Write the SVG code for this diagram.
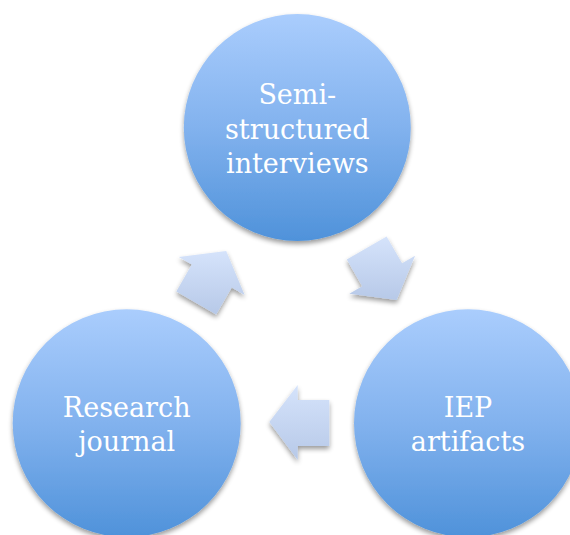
<svg xmlns="http://www.w3.org/2000/svg" width="570" height="535" viewBox="0 0 570 535">
  <defs>
    <linearGradient id="circleGrad" x1="0" y1="0" x2="0" y2="1">
      <stop offset="0" stop-color="#aacdfd"/>
      <stop offset="0.5" stop-color="#82b2ee"/>
      <stop offset="1" stop-color="#4f92da"/>
    </linearGradient>
    <linearGradient id="arrowGrad" x1="0" y1="0" x2="0" y2="1">
      <stop offset="0" stop-color="#d5e3fb"/>
      <stop offset="1" stop-color="#b7c9e8"/>
    </linearGradient>
    <filter id="shadow" x="-20%" y="-20%" width="140%" height="140%">
      <feGaussianBlur in="SourceAlpha" stdDeviation="2.5"/>
      <feOffset dx="0" dy="3" result="b"/>
      <feComponentTransfer><feFuncA type="linear" slope="0.4"/></feComponentTransfer>
      <feMerge><feMergeNode/><feMergeNode in="SourceGraphic"/></feMerge>
    </filter>
  </defs>
  <style>
    .node { fill: url(#circleGrad); filter: url(#shadow); }
    .arrow { fill: url(#arrowGrad); filter: url(#shadow); }
    .label { fill: #ffffff; font-family: "DejaVu Serif", "Liberation Serif", serif; font-size: 27px; text-anchor: middle; }
  </style>
  <rect width="570" height="535" fill="#ffffff"/>
  <g id="connectors">
    <polygon class="arrow" points="349.3,293.8 362.2,286.3 346.8,259.4 386.6,236.4 402.1,263.3 415.1,255.8 396.7,299.9"/>
    <polygon class="arrow" points="269.3,422 297.7,385 297.7,400 329.3,400 329.3,446 297.7,446 297.7,460"/>
    <polygon class="arrow" points="226.2,250.9 244.6,295 231.7,287.5 216.2,314.4 176.3,291.4 191.8,264.5 178.8,257"/>
  </g>
  <g id="node-interviews">
    <circle class="node" cx="297.3" cy="127.5" r="113.5"/>
    <text class="label" x="297.3" y="104">Semi-</text>
    <text class="label" x="297.3" y="138.5">structured</text>
    <text class="label" x="297.3" y="173">interviews</text>
  </g>
  <g id="node-journal">
    <circle class="node" cx="126.7" cy="423.3" r="114"/>
    <text class="label" x="126.7" y="416.7">Research</text>
    <text class="label" x="126.7" y="450.7">journal</text>
  </g>
  <g id="node-artifacts">
    <circle class="node" cx="468" cy="423.3" r="114"/>
    <text class="label" x="468" y="416.7">IEP</text>
    <text class="label" x="468" y="451">artifacts</text>
  </g>
</svg>
